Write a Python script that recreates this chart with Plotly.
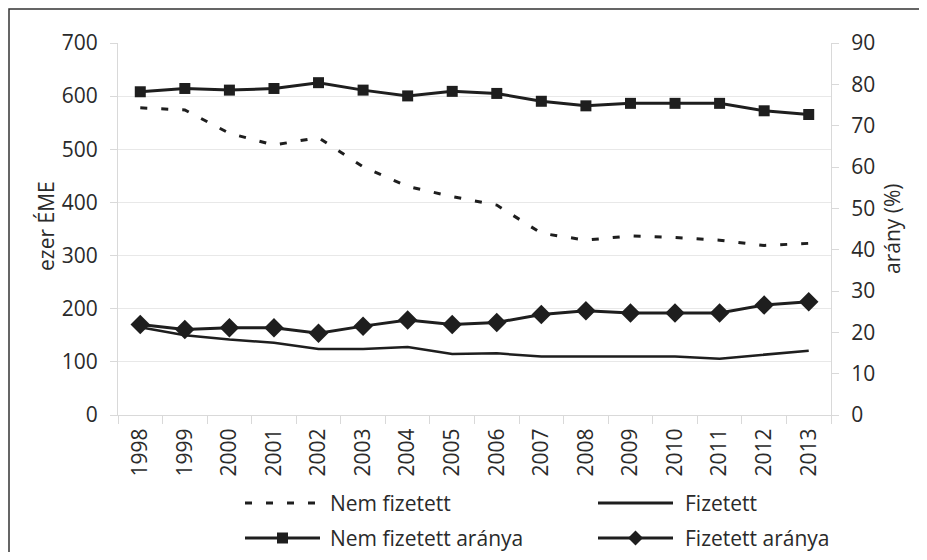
import plotly.graph_objects as go

years = [str(y) for y in range(1998, 2014)]
nem_fizetett = [578, 574, 530, 508, 522, 467, 430, 411, 395, 342, 329, 337, 334, 329, 319, 323]
fizetett = [165, 150, 142, 136, 124, 124, 128, 115, 116, 110, 110, 110, 110, 106, 114, 121]
nem_fizetett_aranya = [78.2, 79.0, 78.6, 79.0, 80.4, 78.6, 77.2, 78.3, 77.8, 75.9, 74.8, 75.4, 75.4, 75.4, 73.6, 72.7]
fizetett_aranya = [21.9, 20.7, 21.1, 21.1, 19.8, 21.5, 23.0, 21.9, 22.4, 24.3, 25.2, 24.7, 24.7, 24.7, 26.6, 27.4]
left_ticks = list(range(0, 701, 100))
right_ticks = list(range(0, 91, 10))

INK = "#1e1e1e"
TXT = "#2a2a2a"
AXC = "#d9d9d9"
FONT = "Open Sans"
FS = 21

OFF = 8  # page body margin
W, H = 911, 544
# target screen coords of the plot area
SL, SR, ST, SB = 118, 831, 43, 415
L, R, T, B = SL - OFF, SR - OFF, ST - OFF, SB - OFF

def px(x):
    return (x - SL) / (SR - SL)

def py(y):
    return (SB - y) / (SB - ST)

fig = go.Figure()
fig.add_trace(go.Scatter(x=years, y=nem_fizetett, name="Nem fizetett", mode="lines",
                         line=dict(color=INK, width=3, dash="7px,14px"), yaxis="y"))
fig.add_trace(go.Scatter(x=years, y=fizetett, name="Fizetett", mode="lines",
                         line=dict(color=INK, width=2.5), yaxis="y"))
fig.add_trace(go.Scatter(x=years, y=nem_fizetett_aranya, name="Nem fizetett aránya", mode="lines+markers",
                         line=dict(color=INK, width=3), marker=dict(symbol="square", size=11, color=INK),
                         yaxis="y2"))
fig.add_trace(go.Scatter(x=years, y=fizetett_aranya, name="Fizetett aránya", mode="lines+markers",
                         line=dict(color=INK, width=3), marker=dict(symbol="diamond", size=15, color=INK),
                         yaxis="y2"))

shapes = []
annotations = []
# outer frame (left edge as close to the page edge as the page allows)
shapes.append(dict(type="rect", xref="paper", yref="paper", x0=px(9), x1=px(940), y0=py(9), y1=py(580),
                   line=dict(color="#333333", width=1.5), fillcolor="rgba(0,0,0,0)", layer="below"))

# manual legend
rows = [503, 538]
cols = [(245, 320, 328), (598, 673, 683)]
items = [
    ("Nem fizetett", 0, 0, "dash", None),
    ("Fizetett", 0, 1, "solid", None),
    ("Nem fizetett aránya", 1, 0, "solid", "square"),
    ("Fizetett aránya", 1, 1, "solid", "diamond"),
]
for name, r, c, dash, sym in items:
    yy = rows[r]
    x0, x1, xt = cols[c]
    shapes.append(dict(type="line", xref="paper", yref="paper", x0=px(x0), x1=px(x1), y0=py(yy), y1=py(yy),
                       line=dict(color=INK, width=3, dash="7px,14px" if dash == "dash" else "solid")))
    xm = (x0 + x1) / 2
    if sym == "square":
        s = 5.5
        shapes.append(dict(type="rect", xref="paper", yref="paper", x0=px(xm - s), x1=px(xm + s),
                           y0=py(yy + s), y1=py(yy - s), fillcolor=INK, line=dict(width=0)))
    elif sym == "diamond":
        s = 7.5
        path = "M {} {} L {} {} L {} {} L {} {} Z".format(px(xm - s), py(yy), px(xm), py(yy - s),
                                                          px(xm + s), py(yy), px(xm), py(yy + s))
        shapes.append(dict(type="path", xref="paper", yref="paper", path=path, fillcolor=INK, line=dict(width=0)))
    annotations.append(dict(text=name, xref="paper", yref="paper", x=px(xt), y=py(yy), xanchor="left",
                            yanchor="middle", showarrow=False, font=dict(family=FONT, size=FS, color=TXT)))

annotations.append(dict(text="ezer ÉME", xref="paper", yref="paper", x=px(46), y=py(226), textangle=-90,
                        showarrow=False, xanchor="center", yanchor="middle",
                        font=dict(family=FONT, size=FS, color=TXT)))
annotations.append(dict(text="arány (%)", xref="paper", yref="paper", x=px(892), y=py(228), textangle=-90,
                        showarrow=False, xanchor="center", yanchor="middle",
                        font=dict(family=FONT, size=FS, color=TXT)))

fig.update_layout(
    width=W, height=H,
    margin=dict(l=L, r=W - R, t=T, b=H - B, pad=0),
    paper_bgcolor="white", plot_bgcolor="white",
    showlegend=False,
    font=dict(family=FONT, size=FS, color=TXT),
    xaxis=dict(type="category", range=[-0.5, 15.5], tickangle=-90, tickson="boundaries",
               ticks="outside", ticklen=8, tickcolor=AXC, showline=True, linecolor=AXC, linewidth=1,
               showgrid=False, zeroline=False, ticklabelstandoff=4,
               tickfont=dict(family=FONT, size=FS, color=TXT)),
    yaxis=dict(range=[0, 700], tickvals=left_ticks, showgrid=True, gridcolor="#e8e8e8", gridwidth=1,
               ticks="outside", ticklen=7, tickcolor=AXC, showline=True, linecolor=AXC, linewidth=1,
               zeroline=False, ticklabelstandoff=8, tickfont=dict(family=FONT, size=FS, color=TXT)),
    yaxis2=dict(range=[0, 90], tickvals=right_ticks, overlaying="y", side="right", showgrid=False,
                ticks="outside", ticklen=7, tickcolor=AXC, showline=True, linecolor=AXC, linewidth=1,
                zeroline=False, ticklabelstandoff=8, tickfont=dict(family=FONT, size=FS, color=TXT)),
    shapes=shapes,
    annotations=annotations,
)

fig.write_html("out.html")
